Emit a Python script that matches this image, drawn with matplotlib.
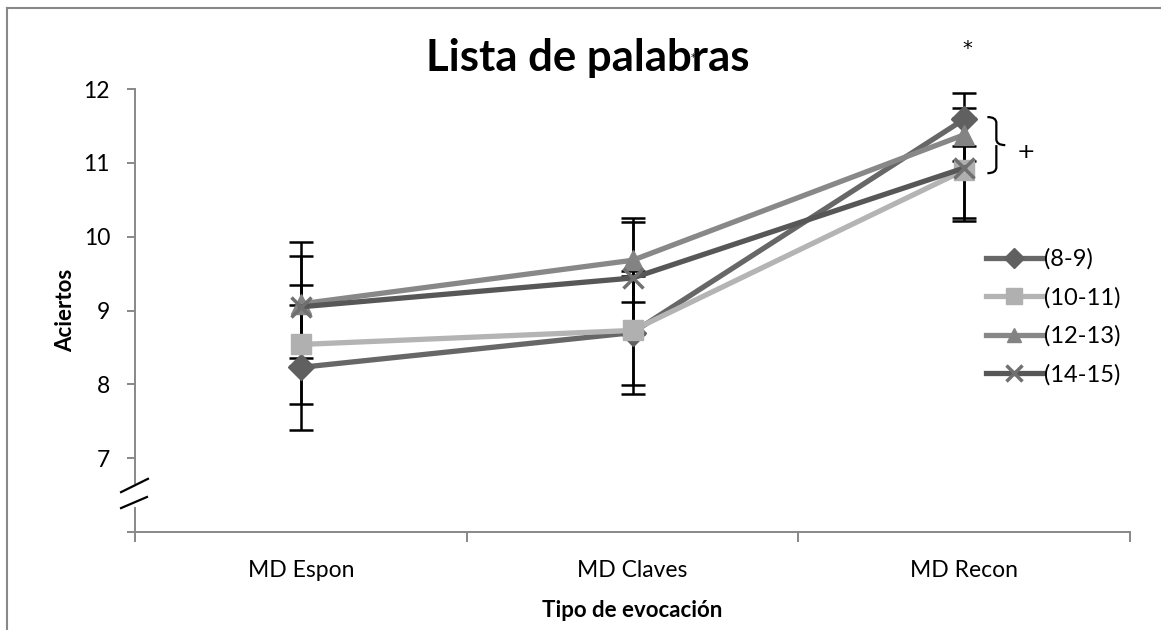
import numpy as np
import matplotlib
matplotlib.use("Agg")
import matplotlib.pyplot as plt
from matplotlib.lines import Line2D
from matplotlib.path import Path
from matplotlib.patches import PathPatch

plt.rcParams['font.family'] = ['Lato', 'DejaVu Sans']

# data
categories = ["MD Espon", "MD Claves", "MD Recon"]
groups = ["(8-9)", "(10-11)", "(12-13)", "(14-15)"]
means = {
    "(8-9)":   [8.23, 8.70, 11.59],
    "(10-11)": [8.54, 8.73, 10.90],
    "(12-13)": [9.09, 9.68, 11.38],
    "(14-15)": [9.05, 9.44, 10.93],
}
sds = {
    "(8-9)":   [0.85, 0.83, 0.36],
    "(10-11)": [0.80, 0.74, 0.69],
    "(12-13)": [0.84, 0.57, 0.36],
    "(14-15)": [0.69, 0.76, 0.68],
}
yticks = [7, 8, 9, 10, 11, 12]

line_colors = {"(8-9)": "#676767", "(10-11)": "#b4b4b4", "(12-13)": "#888888", "(14-15)": "#575757"}
mark_colors = {"(8-9)": "#606060", "(10-11)": "#b0b0b0", "(12-13)": "#838383", "(14-15)": "#707070"}
markers = {"(8-9)": "D", "(10-11)": "s", "(12-13)": "^", "(14-15)": "x"}
msizes = {"(8-9)": 13, "(10-11)": 15, "(12-13)": 14, "(14-15)": 15}

fig = plt.figure(figsize=(11.61, 6.30), dpi=100)
ax = fig.add_axes([135/1161, 1-532/630, (1130-135)/1161, (532-89)/630])

x = np.arange(len(categories))

# error bars behind the lines
for g in groups:
    ax.errorbar(x, means[g], yerr=sds[g], fmt='none', ecolor='black',
                elinewidth=1.8, capsize=8.5, capthick=1.8, zorder=2)

for i, g in enumerate(groups):
    ax.plot(x, means[g], color=line_colors[g], lw=3.8, zorder=3 + i,
            marker=markers[g], ms=msizes[g], mfc=mark_colors[g], mec=mark_colors[g],
            mew=2.5 if markers[g] == 'x' else 1, label=g)

ax.set_xlim(-0.5, 2.5)
ax.set_ylim(6, 12)

for s in ['top', 'right', 'left']:
    ax.spines[s].set_visible(False)
ax.spines['bottom'].set_color('#888888')
ax.spines['bottom'].set_linewidth(1.4)

# y axis drawn by hand, with a break
ax.plot([0, 0], [0, 0.054], transform=ax.transAxes, color='#888888', lw=1.4, clip_on=False)
ax.plot([0, 0], [0.111, 1], transform=ax.transAxes, color='#888888', lw=1.4, clip_on=False)
ax.plot([-0.014, 0.013], [0.090, 0.120], transform=ax.transAxes, color='black', lw=1.6, clip_on=False)
ax.plot([-0.014, 0.012], [0.054, 0.079], transform=ax.transAxes, color='black', lw=1.6, clip_on=False)

ax.set_yticks([6] + yticks)
ax.set_yticklabels([""] + [str(v) for v in yticks])
ax.tick_params(axis='y', direction='out', length=6, width=1.4, color='#888888',
               pad=12, labelsize=16.5)

ax.set_xticks(x)
ax.set_xticklabels(categories)
ax.set_xticks([-0.5, 0.5, 1.5, 2.5], minor=True)
ax.tick_params(axis='x', which='major', length=0, pad=20, labelsize=16.5)
ax.tick_params(axis='x', which='minor', length=7, width=1.4, color='#888888')

ax.set_xlabel("Tipo de evocación", fontsize=16, fontweight='bold', labelpad=14)
ax.set_ylabel("Aciertos", fontsize=16, fontweight='bold', labelpad=5)

fig.text(588/1161, 1-58/630, "Lista de palabras", fontsize=31.5, fontweight='bold',
         ha='center', va='center')
fig.text(693/1161, 1-58/630, "*", fontsize=7, ha='center', va='center',
         family='DejaVu Sans')

# significance marks
ax.text(2.01, 12.55, "*", fontsize=14, ha='center', va='center', family='DejaVu Sans')
bx, bw = 2.07, 0.027
top, bot = 11.62, 10.86
mid = (top + bot) / 2
verts = [(bx, top), (bx + bw, top), (bx + bw, top - 0.08),
         (bx + bw, mid + 0.08), (bx + bw, mid), (bx + 2*bw, mid),
         (bx + bw, mid), (bx + bw, mid - 0.08),
         (bx + bw, bot + 0.08), (bx + bw, bot), (bx, bot)]
codes = [Path.MOVETO, Path.CURVE3, Path.CURVE3, Path.LINETO, Path.CURVE3, Path.CURVE3,
         Path.MOVETO, Path.CURVE3, Path.LINETO, Path.CURVE3, Path.CURVE3]
ax.add_patch(PathPatch(Path(verts, codes), fill=False, lw=1.6, color='black', clip_on=False))
ax.text(2.185, 11.15, "+", fontsize=16, ha='center', va='center', family='DejaVu Sans')

leg = ax.legend(loc='center left', bbox_to_anchor=(986/1161, 1-317/630),
                bbox_transform=fig.transFigure, frameon=False, fontsize=17,
                handlelength=2.4, handletextpad=0.05, labelspacing=0.72,
                markerscale=0.75, borderpad=0, borderaxespad=0)

# outer frame
fig.add_artist(Line2D([7/1161, 1], [1-8/630, 1-8/630], color='#888888', lw=1.5))
fig.add_artist(Line2D([7/1161, 7/1161], [0, 1-8/630], color='#888888', lw=1.5))

fig.savefig("out.png", dpi=100)
